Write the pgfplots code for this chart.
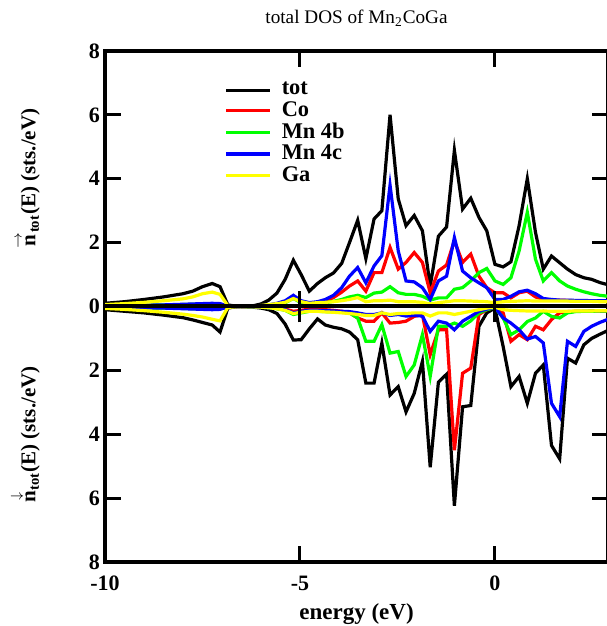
\documentclass[border=0pt]{standalone}
\usepackage{pgfplots}
\usepackage{pgfplotstable}
\pgfplotsset{compat=1.18}
\usepackage{fontspec}
\setmainfont{Liberation Serif}
\definecolor{cRed}{rgb}{1,0,0}
\definecolor{cGreen}{rgb}{0,1,0}
\definecolor{cBlue}{rgb}{0,0,1}
\definecolor{cYellow}{rgb}{1,1,0}

\pgfplotstableread{
x tu cu bu mu gu td cd bd md gd
-10.0 0.10 0.02 0.02 0.02 0.06 -0.10 -0.02 -0.02 -0.02 -0.06
-9.5 0.15 0.02 0.03 0.03 0.09 -0.15 -0.02 -0.03 -0.03 -0.09
-9.0 0.22 0.03 0.04 0.04 0.13 -0.20 -0.03 -0.04 -0.04 -0.13
-8.5 0.30 0.03 0.05 0.05 0.18 -0.27 -0.03 -0.05 -0.05 -0.18
-8.0 0.40 0.04 0.06 0.07 0.24 -0.35 -0.04 -0.06 -0.07 -0.24
-7.75 0.48 0.05 0.07 0.08 0.30 -0.42 -0.05 -0.07 -0.08 -0.28
-7.5 0.62 0.05 0.08 0.09 0.40 -0.50 -0.05 -0.08 -0.09 -0.33
-7.25 0.72 0.06 0.09 0.10 0.45 -0.58 -0.06 -0.09 -0.10 -0.40
-7.05 0.62 0.05 0.08 0.09 0.38 -0.80 -0.05 -0.08 -0.09 -0.45
-6.85 0.05 0.01 0.01 0.01 0.03 -0.05 -0.01 -0.01 -0.01 -0.03
-6.60 0 0 0 0 0 0 0 0 0 0
-6.21 0.02 0 0.01 0.01 0.01 -0.02 0 -0.01 -0.01 -0.01
-6.00 0.08 0.01 0.02 0.02 0.03 -0.05 -0.01 -0.02 -0.02 -0.02
-5.80 0.20 0.03 0.04 0.05 0.06 -0.10 -0.02 -0.04 -0.04 -0.04
-5.59 0.42 0.06 0.07 0.10 0.09 -0.22 -0.04 -0.07 -0.06 -0.07
-5.38 0.85 0.12 0.12 0.18 0.13 -0.55 -0.08 -0.12 -0.10 -0.12
-5.17 1.45 0.30 0.25 0.35 0.25 -1.05 -0.15 -0.25 -0.20 -0.22
-4.97 1.00 0.15 0.12 0.18 0.15 -1.04 -0.12 -0.20 -0.15 -0.18
-4.76 0.48 0.08 0.08 0.12 0.10 -0.70 -0.08 -0.15 -0.12 -0.15
-4.55 0.72 0.12 0.10 0.15 0.12 -0.39 -0.08 -0.15 -0.12 -0.15
-4.35 0.90 0.18 0.12 0.22 0.13 -0.58 -0.10 -0.16 -0.13 -0.17
-4.14 1.05 0.28 0.16 0.35 0.15 -0.65 -0.12 -0.17 -0.14 -0.18
-3.93 1.35 0.45 0.22 0.59 0.18 -0.70 -0.15 -0.18 -0.15 -0.20
-3.73 2.00 0.64 0.30 0.95 0.22 -0.80 -0.20 -0.20 -0.16 -0.22
-3.52 2.70 0.80 0.35 1.22 0.28 -1.04 -0.36 -0.36 -0.20 -0.25
-3.31 1.50 0.48 0.28 0.74 0.15 -2.40 -0.46 -1.09 -0.25 -0.28
-3.10 2.74 1.06 0.42 1.27 0.18 -2.40 -0.46 -1.09 -0.25 -0.28
-2.90 3.00 1.06 0.45 1.59 0.18 -1.15 -0.20 -0.57 -0.20 -0.20
-2.69 6.00 1.85 0.62 3.80 0.20 -2.77 -0.52 -1.46 -0.28 -0.25
-2.48 3.37 1.17 0.43 1.74 0.15 -2.51 -0.50 -1.41 -0.25 -0.22
-2.28 2.53 1.38 0.38 0.80 0.15 -3.30 -0.46 -2.19 -0.30 -0.22
-2.07 2.85 1.69 0.38 0.77 0.15 -2.72 -0.31 -1.83 -0.28 -0.20
-1.86 2.37 1.38 0.32 0.59 0.13 -1.72 -0.25 -0.88 -0.30 -0.20
-1.66 0.64 0.43 0.20 0.22 0.08 -5.03 -1.51 -2.19 -0.78 -0.30
-1.45 2.20 1.11 0.27 0.80 0.12 -2.37 -0.73 -0.62 -0.46 -0.20
-1.24 2.49 1.30 0.27 0.95 0.15 -2.12 -0.73 -0.62 -0.52 -0.20
-1.04 4.89 2.06 0.54 2.16 0.18 -6.24 -4.50 -0.52 -0.73 -0.25
-0.83 3.05 1.38 0.59 1.11 0.18 -3.14 -2.09 -0.62 -0.46 -0.20
-0.62 3.39 1.64 0.80 0.90 0.17 -3.10 -1.93 -0.45 -0.31 -0.15
-0.41 2.79 0.95 1.06 0.74 0.16 -0.62 -0.25 -0.20 -0.15 -0.10
-0.21 2.37 0.59 1.19 0.59 0.15 -0.20 -0.10 -0.10 -0.08 -0.05
0.00 1.32 0.43 0.80 0.22 0.12 -0.05 -0.02 -0.03 -0.02 -0.02
0.21 1.24 0.43 0.69 0.22 0.15 -1.25 -0.20 -0.36 -0.36 -0.10
0.41 1.40 0.27 0.90 0.32 0.16 -2.51 -1.09 -0.88 -0.52 -0.12
0.62 2.53 0.43 1.74 0.46 0.17 -2.19 -0.88 -0.73 -0.73 -0.13
0.83 4.00 0.48 2.95 0.51 0.18 -3.03 -1.04 -0.47 -1.02 -0.14
1.04 2.32 0.30 1.48 0.40 0.17 -2.09 -0.62 -0.36 -0.94 -0.14
1.24 1.17 0.22 0.80 0.25 0.17 -1.83 -0.73 -0.15 -1.14 -0.14
1.45 1.58 0.20 1.06 0.22 0.17 -4.35 -0.41 -0.31 -3.03 -0.15
1.66 1.37 0.20 0.80 0.20 0.17 -4.77 -0.20 -0.36 -3.45 -0.15
1.86 1.17 0.19 0.64 0.20 0.17 -1.62 -0.16 -0.20 -1.09 -0.15
2.07 1.00 0.18 0.54 0.19 0.16 -1.77 -0.15 -0.16 -1.25 -0.14
2.28 0.90 0.18 0.46 0.19 0.16 -1.20 -0.15 -0.15 -0.78 -0.14
2.48 0.85 0.17 0.40 0.18 0.16 -1.00 -0.14 -0.15 -0.62 -0.14
2.69 0.75 0.17 0.35 0.18 0.15 -0.87 -0.14 -0.14 -0.50 -0.13
2.90 0.68 0.16 0.32 0.18 0.15 -0.75 -0.14 -0.14 -0.40 -0.13
}\dos

\begin{document}
\begin{tikzpicture}
\begin{axis}[
  scale only axis,
  width=251.5pt, height=255.5pt,
  xmin=-10, xmax=2.9, ymin=-8, ymax=8,
  xtick={-10,-5,0},
  ytick={-8,-6,-4,-2,0,2,4,6,8},
  yticklabel={\pgfmathparse{abs(\tick)}\pgfmathprintnumber{\pgfmathresult}},
  /pgf/number format/assume math mode=true,
  tick align=inside,
  major tick length=8pt,
  axis line style={line width=2pt},
  every tick/.style={black, line width=1.5pt},
  tick label style={font=\fontsize{11}{12}\selectfont\bfseries},
  xticklabel style={yshift=-3.5pt},
  yticklabel style={xshift=1pt},
  title={total DOS of Mn\textsubscript{2}CoGa},
  title style={font=\fontsize{9.6}{11}\selectfont, yshift=2.8pt},
  xlabel={energy (eV)},
  xlabel style={font=\fontsize{11.5}{12}\selectfont\bfseries, yshift=0.8pt},
  legend style={draw=none, fill=none, at={(0.225,0.955)}, anchor=north west,
    font=\fontsize{11.2}{12}\selectfont\bfseries, row sep=-2.2pt},
  legend cell align=left,
  legend image code/.code={\draw[#1, line width=1.6pt] (0pt,0pt) -- (22pt,0pt); \path (25pt,0pt);},
  every axis plot/.append style={line width=1.6pt, line join=miter},
  clip=true,
]
\addplot[black] table[x=x, y=tu]{\dos};
\addlegendentry{tot}
\addplot[cRed] table[x=x, y=cu]{\dos};
\addlegendentry{Co}
\addplot[cGreen] table[x=x, y=bu]{\dos};
\addlegendentry{Mn 4b}
\addplot[cBlue] table[x=x, y=mu]{\dos};
\addlegendentry{Mn 4c}
\addplot[cYellow] table[x=x, y=gu]{\dos};
\addlegendentry{Ga}
\addplot[black, forget plot] table[x=x, y=td]{\dos};
\addplot[cRed, forget plot] table[x=x, y=cd]{\dos};
\addplot[cGreen, forget plot] table[x=x, y=bd]{\dos};
\addplot[cBlue, forget plot] table[x=x, y=md]{\dos};
\addplot[cYellow, forget plot] table[x=x, y=gd]{\dos};
\addplot[black, line width=2pt, forget plot] coordinates {(-10,0) (2.9,0)};
\addplot[black, line width=1.5pt, forget plot] coordinates {(-5,-0.5) (-5,0.5)};
\addplot[black, line width=1.5pt, forget plot] coordinates {(0,-0.5) (0,0.5)};
\end{axis}
\node[rotate=90, anchor=south, font=\fontsize{10.5}{12}\selectfont\bfseries]
  at ([xshift=-29pt]current axis.west |- {rel axis cs:0,0.75}) {$\stackrel{\rightarrow}{\mbox{n}}$\textsubscript{tot}(E) (sts./eV)};
\node[rotate=90, anchor=south, font=\fontsize{10.5}{12}\selectfont\bfseries]
  at ([xshift=-29pt]current axis.west |- {rel axis cs:0,0.25}) {$\stackrel{\downarrow}{\mbox{n}}$\textsubscript{tot}(E) (sts./eV)};
\pgfresetboundingbox
\path[use as bounding box] ([xshift=-52.5pt, yshift=-32pt]current axis.south west) rectangle ([xshift=-1pt, yshift=25.5pt]current axis.north east);
\end{tikzpicture}
\end{document}
